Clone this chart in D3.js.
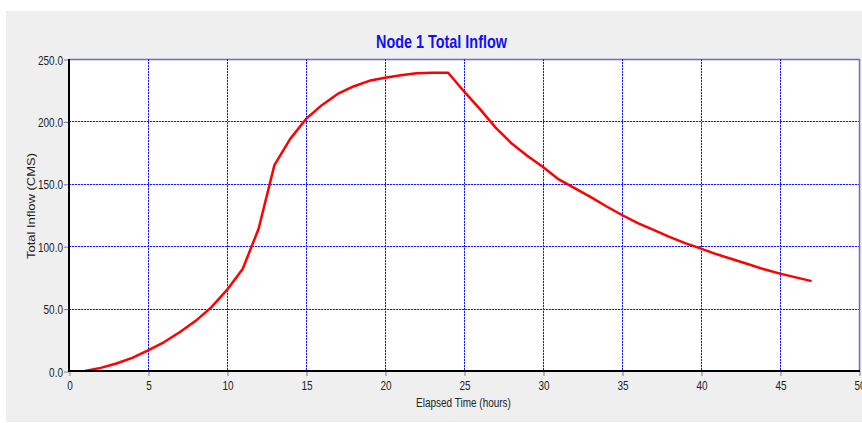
<!DOCTYPE html>
<html><head><meta charset="utf-8">
<script src="https://cdn.jsdelivr.net/npm/d3@7"></script>
<style>html,body{margin:0;padding:0;background:#fff;}svg{display:block;font-family:"Liberation Sans",Arial,sans-serif;}</style>
</head><body>
<svg id="c" width="862" height="423"></svg>
<script>
const hours = [1,2,3,4,5,6,7,8,9,10,11,12,13,14,15,16,17,18,19,20,21,22,23,24,25,26,27,28,29,30,31,32,33,34,35,36,37,38,39,40,41,42,43,44,45,46,47];
const inflow = [0,2.5,6,10.5,16.5,23,31,40,51,65,82,114,165,186,202,213,222,228,232.5,235,237,238.5,239,239,224,210,195,182.5,172.5,163.5,153.5,146.5,139.5,132,125,118.5,113,107.5,102.5,98,93.5,89.5,85.5,81.5,78,75,72];
const xTicks = [0,5,10,15,20,25,30,35,40,45,50];
const yTicks = [0,50,100,150,200,250];
const title = "Node 1 Total Inflow";
const xLabel = "Elapsed Time (hours)";
const yLabel = "Total Inflow (CMS)";

const svg = d3.select("#c");
const L=69, R=859, T=59, B=371, SQ=0.8;
const x = d3.scaleLinear().domain([0,50]).range([L,R]);
const y = d3.scaleLinear().domain([0,250]).range([B,T]);

svg.append("rect").attr("x",6).attr("y",11).attr("width",856).attr("height",411).attr("fill","#efefef");
svg.append("rect").attr("x",L).attr("y",T).attr("width",R-L).attr("height",B-T).attr("fill","#fff");

// borders
svg.append("line").attr("x1",L).attr("x2",R+1).attr("y1",T+0.5).attr("y2",T+0.5).attr("stroke","#6a6ad0").attr("stroke-width",1.5);
svg.append("line").attr("x1",R+0.5).attr("x2",R+0.5).attr("y1",T).attr("y2",B).attr("stroke","#7070b8").attr("stroke-width",1.5);

// grid
const g = svg.append("g").attr("shape-rendering","crispEdges");
const vx = xTicks.filter(d=>d>0&&d<50), hy = yTicks.filter(d=>d>0&&d<250);
[["#c4c4ff",null],["#1a1aff","2,1"]].forEach(([col,dash])=>{
  g.append("g").selectAll("line").data(vx).join("line")
   .attr("x1",d=>Math.round(x(d))+0.5).attr("x2",d=>Math.round(x(d))+0.5).attr("y1",T).attr("y2",B)
   .attr("stroke",col).attr("stroke-width",1).attr("stroke-dasharray",dash);
  g.append("g").selectAll("line").data(hy).join("line")
   .attr("y1",d=>Math.round(y(d))+0.5).attr("y2",d=>Math.round(y(d))+0.5).attr("x1",L).attr("x2",R)
   .attr("stroke",col).attr("stroke-width",1).attr("stroke-dasharray",dash);
});

// series
const line = d3.line().x((d,i)=>x(hours[i])).y(d=>y(d));
svg.append("path").datum(inflow).attr("d",line).attr("fill","none").attr("stroke","#ff0000").attr("stroke-width",2.5).attr("stroke-linejoin","round");

// axes
const xa = svg.append("g").attr("transform",`translate(0.5,${B})`).call(d3.axisBottom(x).tickValues(xTicks).tickSize(5).tickFormat(d3.format("d")));
const ya = svg.append("g").attr("transform",`translate(${L},0.5)`).call(d3.axisLeft(y).tickValues(yTicks).tickSize(5).tickFormat(d3.format(".1f")));
[xa,ya].forEach(a=>{a.select(".domain").remove();a.selectAll(".tick line").attr("stroke","#808080");a.selectAll(".tick text").remove();});
xa.selectAll(".tick").append("text").attr("y",19).attr("text-anchor","middle").attr("transform",`scale(${SQ},1)`)
  .attr("font-size",12.5).attr("fill","#222").text(d=>d3.format("d")(d));
ya.selectAll(".tick").append("g").attr("transform",`translate(-6,0) scale(${SQ},1)`).append("text").attr("dy","0.36em").attr("text-anchor","end")
  .attr("font-size",12.5).attr("fill","#222").text(d=>d3.format(".1f")(d));

svg.append("line").attr("x1",L).attr("x2",L).attr("y1",T).attr("y2",B+1).attr("stroke","#000").attr("stroke-width",2);
svg.append("line").attr("x1",L-1).attr("x2",R+1).attr("y1",B).attr("y2",B).attr("stroke","#000").attr("stroke-width",2);

// titles
svg.append("g").attr("transform",`translate(441.5,48) scale(${SQ},1)`).append("text").attr("text-anchor","middle")
  .attr("font-size",18).attr("font-weight","bold").attr("fill","#1010f0").text(title);
svg.append("g").attr("transform",`translate(463.5,407) scale(${SQ},1)`).append("text").attr("text-anchor","middle")
  .attr("font-size",12.5).attr("fill","#222").text(xLabel);
svg.append("g").attr("transform",`translate(35,206) scale(${SQ},1) rotate(-90)`).append("text").attr("text-anchor","middle")
  .attr("font-size",13).attr("fill","#222").text(yLabel);
</script>
</body></html>
